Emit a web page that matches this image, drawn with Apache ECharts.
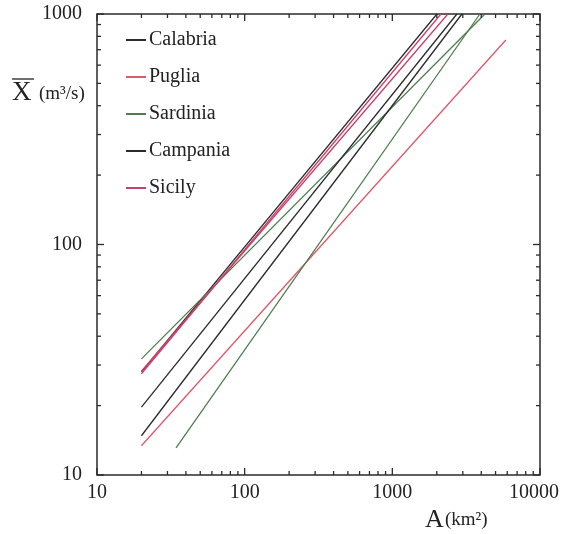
<!DOCTYPE html>
<html><head><meta charset="utf-8">
<script src="https://cdn.jsdelivr.net/npm/echarts@6/dist/echarts.min.js"></script>
<style>html,body{margin:0;padding:0;background:#fff}#c{width:561px;height:534px}</style>
</head><body><div id="c"></div>
<script>
// Data (A in km², mean flood X in m³/s)
const regions = ['Calabria', 'Puglia', 'Sardinia', 'Campania', 'Sicily'];
const calabriaA = [[20, 28.0], [2005, 1000]];
const calabriaB = [[20, 14.8], [2960, 1000]];
const campania  = [[20, 19.7], [2737, 1000]];
const sicilyA   = [[20, 28.2], [2378, 1000]];
const sicilyB   = [[20, 27.5], [2134, 1000]];
const puglia    = [[20, 13.4], [5870, 771]];
const sardiniaA = [[20, 31.9], [4237, 1000]];
const sardiniaB = [[34.3, 13.1], [3918, 1000]];
const xTickLabels = [10, 100, 1000, 10000];
const yTickLabels = [10, 100, 1000];
const xMinor = [20,30,40,50,60,70,80,90,200,300,400,500,600,700,800,900,2000,3000,4000,5000,6000,7000,8000,9000];
const yMinor = [20,30,40,50,60,70,80,90,200,300,400,500,600,700,800,900];

const BLACK = '#2b2b2b', RED = '#e0566a', GREEN = '#4e7d4e', PINK = '#c9406a';
const serif = '"Liberation Serif", "DejaVu Serif", serif';

function lineSeries(name, data, color) {
  return { name, type: 'line', data, symbol: 'none', color,
    lineStyle: { width: 1.3, color }, silent: true, animation: false, z: 3 };
}

const tickData = [];
xMinor.forEach(v => tickData.push({ value: [v, 10], kind: 'x', len: 4 }));
xTickLabels.forEach(v => tickData.push({ value: [v, 10], kind: 'x', len: 7 }));
yMinor.forEach(v => tickData.push({ value: [10, v], kind: 'y', len: 4 }));
yTickLabels.forEach(v => tickData.push({ value: [10, v], kind: 'y', len: 7 }));

const chart = echarts.init(document.getElementById('c'), null, { renderer: 'canvas' });
chart.setOption({
  animation: false,
  backgroundColor: '#fff',
  grid: { left: 97, right: 21, top: 14, bottom: 59, outerBoundsMode: 'none', containLabel: false,
    show: true, borderColor: BLACK, borderWidth: 1.5, backgroundColor: 'transparent' },
  xAxis: { type: 'log', logBase: 10, min: 10, max: 10000,
    axisLine: { show: false }, axisTick: { show: false }, splitLine: { show: false },
    axisLabel: { color: '#222', fontFamily: serif, fontSize: 20, margin: 8,
      formatter: v => (v >= 10000 ? '{r|' + v + '}' : String(v)),
      rich: { r: { fontFamily: serif, fontSize: 20, color: '#222', padding: [0, 12, 0, 0] } },
      showMinLabel: true, showMaxLabel: true } },
  yAxis: { type: 'log', logBase: 10, min: 10, max: 1000,
    axisLine: { show: false }, axisTick: { show: false }, splitLine: { show: false },
    axisLabel: { color: '#222', fontFamily: serif, fontSize: 20, margin: 15, formatter: v => String(v) } },
  legend: { data: regions, orient: 'vertical', left: 121, top: 24, itemWidth: 20, itemHeight: 2, itemGap: 15,
    icon: 'rect', selectedMode: false,
    textStyle: { fontFamily: serif, fontSize: 20, lineHeight: 22, color: '#222', padding: [0, 0, 0, -2] } },
  series: [
    lineSeries('Calabria', calabriaA, BLACK),
    lineSeries('Puglia', puglia, RED),
    lineSeries('Sardinia', sardiniaA, GREEN),
    lineSeries('Campania', campania, BLACK),
    lineSeries('Sicily', sicilyA, PINK),
    lineSeries('Calabria', calabriaB, BLACK),
    lineSeries('Sardinia', sardiniaB, GREEN),
    lineSeries('Sicily', sicilyB, PINK),
    { type: 'custom', name: 'ticks', silent: true, clip: false, z: 5, data: tickData,
      renderItem: function (params, api) {
        const d = tickData[params.dataIndex];
        const st = { stroke: BLACK, lineWidth: 1.3 };
        if (d.kind === 'x') {
          const b = api.coord([d.value[0], 10]);
          const t = api.coord([d.value[0], 1000]);
          return { type: 'group', children: [
            { type: 'line', shape: { x1: b[0], y1: b[1], x2: b[0], y2: b[1] - d.len }, style: st },
            { type: 'line', shape: { x1: t[0], y1: t[1], x2: t[0], y2: t[1] + d.len }, style: st }
          ]};
        } else {
          const l = api.coord([10, d.value[1]]);
          const r = api.coord([10000, d.value[1]]);
          return { type: 'group', children: [
            { type: 'line', shape: { x1: l[0], y1: l[1], x2: l[0] + d.len, y2: l[1] }, style: st },
            { type: 'line', shape: { x1: r[0], y1: r[1], x2: r[0] - d.len, y2: r[1] }, style: st }
          ]};
        }
      }
    }
  ],
  graphic: [
    { type: 'text', left: 12, top: 79, style: { text: 'X', font: '27px ' + serif, fill: '#222' } },
    { type: 'line', shape: { x1: 12, y1: 79, x2: 34, y2: 79 }, style: { stroke: '#222', lineWidth: 1.3 } },
    { type: 'text', left: 39, top: 85, style: { text: '(m³/s)', font: '19px ' + serif, fill: '#222' } },
    { type: 'text', left: 425, top: 507, style: { text: 'A', font: '26px ' + serif, fill: '#222' } },
    { type: 'text', left: 445, top: 511, style: { text: '(km²)', font: '19px ' + serif, fill: '#222' } }
  ]
});
</script></body></html>
